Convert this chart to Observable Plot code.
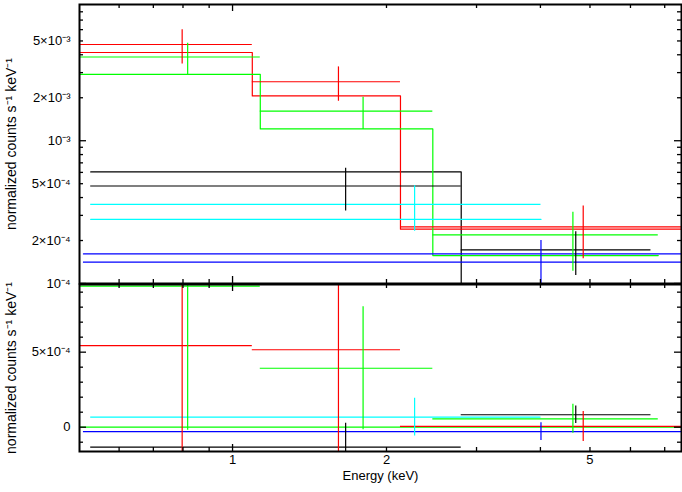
<!DOCTYPE html>
<html><head><meta charset="utf-8">
<script src="https://cdn.jsdelivr.net/npm/d3@7"></script>
<script src="https://cdn.jsdelivr.net/npm/@observablehq/plot@0.6"></script>
<style>
body{margin:0;background:#fff;}
#wrap{position:relative;width:682px;height:492px;overflow:hidden;}
#top{position:absolute;left:0;top:0;}
#bot{position:absolute;left:0;top:284px;}
</style></head><body><div id="wrap"><div id="top"></div><div id="bot"></div></div>
<script>
// ---- data ----
const seriesNames = ["spectrum 1", "spectrum 2", "spectrum 3", "spectrum 4", "spectrum 5"];
const seriesColors = ["#000000", "#ff0000", "#00ff00", "#0000ff", "#00ffff"];
// energy bin edges (keV)
const binEdges = [
  [0.528, 2.80, 6.58],
  [0.50, 1.093, 2.13, 7.57],
  [0.50, 1.133, 2.464, 6.80],
  [0.511, 7.6],
  [0.528, 4.01]
];
// energy of each data cross (keV)
const binCenters = [
  [1.664, 4.69],
  [0.797, 1.611, 4.85],
  [0.817, 1.80, 4.63],
  [4.01],
  [2.27]
];
// normalized counts s^-1 keV^-1
const dataValues = [
  [4.82e-4, 1.72e-4],
  [4.72e-3, 2.59e-3, 2.49e-4],
  [3.86e-3, 1.61e-3, 2.19e-4],
  [1.41e-4],
  [3.58e-4]
];
const dataErrors = [
  [1.6e-4, 0.58e-4],
  [1.27e-3, 0.70e-3, 1.0e-4],
  [0.96e-3, 0.41e-3, 0.97e-4],
  [0.59e-4],
  [1.26e-4]
];
const modelValues = [
  [6.05e-4, 0.89e-4],
  [4.15e-3, 2.06e-3, 2.40e-4],
  [2.92e-3, 1.21e-3, 1.57e-4],
  [1.61e-4],
  [2.81e-4]
];
// residuals (data - model)
const residualValues = [
  [-1.33e-4, 0.83e-4],
  [5.43e-4, 5.16e-4, 0.05e-4],
  [9.4e-4, 3.93e-4, 0.56e-4],
  [-0.29e-4],
  [0.67e-4]
];
const zeroLine = [0];

// axes
const xDomain = [0.502, 7.55];
const yTopDomain = [1e-4, 9.0e-3];
const yBotDomain = [-1.62e-4, 9.51e-4];
const xMajorTicks = [1];
const xMinorTicks = [0.6, 0.7, 0.8, 0.9, 2, 3, 4, 5, 6, 7];
const xLabelTicks = [1, 2, 5];
const xLabelTexts = ["1", "2", "5"];
const yTopMajorTicks = [1e-4, 1e-3];
const yTopMinorTicks = [2e-4, 3e-4, 4e-4, 5e-4, 6e-4, 7e-4, 8e-4, 9e-4, 2e-3, 3e-3, 4e-3, 5e-3, 6e-3, 7e-3, 8e-3];
const yTopLabelTicks = [1e-4, 2e-4, 5e-4, 1e-3, 2e-3, 5e-3];
const yTopLabelTexts = ["10\u207B\u2074", "2\u00D710\u207B\u2074", "5\u00D710\u207B\u2074", "10\u207B\u00B3", "2\u00D710\u207B\u00B3", "5\u00D710\u207B\u00B3"];
const yBotMajorTicks = [0, 5e-4];
const yBotMinorTicks = [-1e-4, 1e-4, 2e-4, 3e-4, 4e-4, 6e-4, 7e-4, 8e-4, 9e-4];
const yBotLabelTicks = [0, 5e-4];
const yBotLabelTexts = ["0", "5\u00D710\u207B\u2074"];
const yTitle = "normalized counts s\u207B\u00B9 keV\u207B\u00B9";
const xTitle = "Energy (keV)";

// ---- derived tables ----
const points = [];
const model = [];
seriesNames.forEach((s, k) => {
  binCenters[k].forEach((c, i) => {
    const v = dataValues[k][i], e = dataErrors[k][i], r = residualValues[k][i];
    points.push({s, x: c, xlo: binEdges[k][i], xhi: binEdges[k][i + 1],
      y: v, ylo: v - e, yhi: v + e, r, rlo: r - e, rhi: r + e});
  });
  modelValues[k].forEach((m, i) => {
    model.push({s, x: binEdges[k][i], y: m});
    model.push({s, x: binEdges[k][i + 1], y: m});
  });
});

const W = 682, ML = 79, MR = 1;
const font = "'Liberation Sans', Arial, Helvetica, sans-serif";
const color = {type: "ordinal", domain: seriesNames, range: seriesColors};

function tickMarks(panelH, panelW, xMaj, xMin, yMaj, yMin) {
  const maj = 7, min = 4;
  return [
    Plot.tickX(xMaj, {insetBottom: panelH - maj, stroke: "#000", strokeWidth: 1.3}),
    Plot.tickX(xMin, {insetBottom: panelH - min, stroke: "#000", strokeWidth: 1.3}),
    Plot.tickX(xMaj, {insetTop: panelH - maj, stroke: "#000", strokeWidth: 1.3}),
    Plot.tickX(xMin, {insetTop: panelH - min, stroke: "#000", strokeWidth: 1.3}),
    Plot.tickY(yMaj, {insetRight: panelW - maj, stroke: "#000", strokeWidth: 1.3}),
    Plot.tickY(yMin, {insetRight: panelW - min, stroke: "#000", strokeWidth: 1.3}),
    Plot.tickY(yMaj, {insetLeft: panelW - maj, stroke: "#000", strokeWidth: 1.3}),
    Plot.tickY(yMin, {insetLeft: panelW - min, stroke: "#000", strokeWidth: 1.3})
  ];
}
function yLabels(ticks, texts) {
  return Plot.text(ticks, {y: d => d, text: (d, i) => texts[i], frameAnchor: "left",
    dx: -9, textAnchor: "end", fontSize: 13, fill: "#000"});
}
function yTitleMark() {
  return Plot.text([yTitle], {text: d => d, frameAnchor: "left", dx: -68, rotate: -90,
    textAnchor: "middle", lineAnchor: "middle", fontSize: 14, fill: "#000"});
}

// ---- top panel ----
const topH = 284, topMT = 4, topMB = 1;
const topPanelH = topH - topMT - topMB, panelW = W - ML - MR;
const topPlot = Plot.plot({
  width: W, height: topH, marginLeft: ML, marginRight: MR, marginTop: topMT, marginBottom: topMB,
  style: {fontFamily: font, fontSize: "13px", overflow: "visible", background: "transparent", color: "#000"},
  x: {type: "log", domain: xDomain, axis: null},
  y: {type: "log", domain: yTopDomain, axis: null},
  color,
  marks: [
    Plot.line(model, {x: "x", y: "y", z: "s", stroke: "s", strokeWidth: 1.2, clip: true}),
    Plot.ruleY(points, {y: "y", x1: "xlo", x2: "xhi", stroke: "s", strokeWidth: 1.2, clip: true}),
    Plot.ruleX(points, {x: "x", y1: "ylo", y2: "yhi", stroke: "s", strokeWidth: 1.2, clip: true}),
    ...tickMarks(topPanelH, panelW, xMajorTicks, xMinorTicks, yTopMajorTicks, yTopMinorTicks),
    yLabels(yTopLabelTicks, yTopLabelTexts),
    yTitleMark(),
    Plot.frame({stroke: "#000", strokeWidth: 2})
  ]
});
document.getElementById("top").appendChild(topPlot);

// ---- bottom panel ----
const botH = 208, botMT = 0, botMB = 41;
const botPanelH = botH - botMT - botMB;
const botPlot = Plot.plot({
  width: W, height: botH, marginLeft: ML, marginRight: MR, marginTop: botMT, marginBottom: botMB,
  style: {fontFamily: font, fontSize: "13px", overflow: "visible", background: "transparent", color: "#000"},
  x: {type: "log", domain: xDomain, axis: null},
  y: {type: "linear", domain: yBotDomain, axis: null},
  color,
  marks: [
    Plot.ruleY(zeroLine, {stroke: "#00ff00", strokeWidth: 1.2}),
    Plot.ruleY(points, {y: "r", x1: "xlo", x2: "xhi", stroke: "s", strokeWidth: 1.2, clip: true}),
    Plot.ruleX(points, {x: "x", y1: "rlo", y2: "rhi", stroke: "s", strokeWidth: 1.2, clip: true}),
    ...tickMarks(botPanelH, panelW, xMajorTicks, xMinorTicks, yBotMajorTicks, yBotMinorTicks),
    yLabels(yBotLabelTicks, yBotLabelTexts),
    yTitleMark(),
    Plot.text(xLabelTicks, {x: d => d, text: (d, i) => xLabelTexts[i], frameAnchor: "bottom",
      dy: 12, fontSize: 13, fill: "#000"}),
    Plot.text([xTitle], {text: d => d, frameAnchor: "bottom", dy: 28, fontSize: 13, fill: "#000"}),
    Plot.frame({stroke: "#000", strokeWidth: 2})
  ]
});
document.getElementById("bot").appendChild(botPlot);
</script></body></html>
